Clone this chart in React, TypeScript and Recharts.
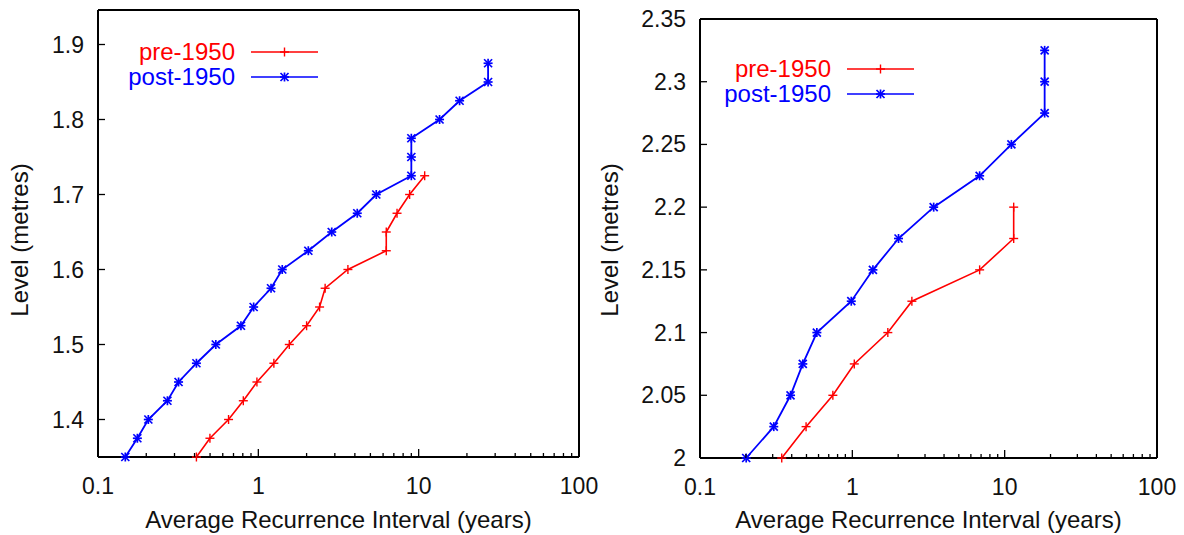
import React from "react"
import { LineChart, Line, XAxis, YAxis } from "recharts"

// left panel
const leftPreLevels = [1.35, 1.375, 1.4, 1.425, 1.45, 1.475, 1.5, 1.525, 1.55, 1.575, 1.6, 1.625, 1.65, 1.675, 1.7, 1.725]
const leftPreIntervals = [0.411, 0.499, 0.652, 0.806, 0.98, 1.25, 1.56, 2.0, 2.41, 2.61, 3.62, 6.28, 6.28, 7.33, 8.78, 10.9]
const leftPostLevels = [1.35, 1.375, 1.4, 1.425, 1.45, 1.475, 1.5, 1.525, 1.55, 1.575, 1.6, 1.625, 1.65, 1.675, 1.7, 1.725, 1.75, 1.775, 1.8, 1.825, 1.85, 1.875]
const leftPostIntervals = [0.148, 0.176, 0.206, 0.271, 0.318, 0.411, 0.543, 0.779, 0.935, 1.2, 1.41, 2.05, 2.87, 4.14, 5.44, 9.0, 9.0, 9.0, 13.5, 18.0, 27.1, 27.1]
const leftYTicks = [1.4, 1.5, 1.6, 1.7, 1.8, 1.9]

// right panel
const rightPreLevels = [2.0, 2.025, 2.05, 2.075, 2.1, 2.125, 2.15, 2.175, 2.2]
const rightPreIntervals = [0.344, 0.497, 0.745, 1.03, 1.71, 2.46, 6.85, 11.46, 11.46]
const rightPostLevels = [2.0, 2.025, 2.05, 2.075, 2.1, 2.125, 2.15, 2.175, 2.2, 2.225, 2.25, 2.275, 2.3, 2.325]
const rightPostIntervals = [0.201, 0.305, 0.393, 0.473, 0.585, 0.984, 1.365, 2.01, 3.42, 6.85, 11.07, 18.3, 18.3, 18.3]
const rightYTicks = [2, 2.05, 2.1, 2.15, 2.2, 2.25, 2.3, 2.35]

const xMajor = [0.1, 1, 10, 100]
const xTicks = [0.1, 0.2, 0.3, 0.4, 0.5, 0.6, 0.7, 0.8, 0.9, 1, 2, 3, 4, 5, 6, 7, 8, 9, 10, 20, 30, 40, 50, 60, 70, 80, 90, 100]

const seriesNames = ["pre-1950", "post-1950"]
const RED = "#ff0000"
const BLUE = "#0000ff"
const FONT = "'Liberation Sans', Arial, Helvetica, sans-serif"

const toRows = (xs: number[], ys: number[]) => xs.map((x, i) => ({ interval: x, level: ys[i] }))

function PlusDot({ cx, cy }: any) {
  if (cx == null || cy == null) return null
  return (
    <g stroke={RED} strokeWidth={1.4}>
      <line x1={cx - 4.5} y1={cy} x2={cx + 4.5} y2={cy} />
      <line x1={cx} y1={cy - 4.5} x2={cx} y2={cy + 4.5} />
    </g>
  )
}

function StarDot({ cx, cy }: any) {
  if (cx == null || cy == null) return null
  return (
    <g stroke={BLUE} strokeWidth={1.7}>
      <line x1={cx - 4.5} y1={cy} x2={cx + 4.5} y2={cy} />
      <line x1={cx} y1={cy - 4.5} x2={cx} y2={cy + 4.5} />
      <line x1={cx - 4} y1={cy - 4} x2={cx + 4} y2={cy + 4} />
      <line x1={cx - 4} y1={cy + 4} x2={cx + 4} y2={cy - 4} />
    </g>
  )
}

function XTick({ x, y, payload, side }: any) {
  const v = payload.value
  const major = xMajor.includes(v)
  const len = major ? 8 : 4
  const dir = side === "bottom" ? -1 : 1
  return (
    <g>
      <line x1={x} y1={y} x2={x} y2={y + dir * len} stroke="#000" strokeWidth={1.3} />
      {side === "bottom" && major && (
        <text x={x} y={y + 37} textAnchor="middle" fontSize={23} fontFamily={FONT} fill="#111">
          {String(v)}
        </text>
      )}
    </g>
  )
}

function YTick({ x, y, payload, side }: any) {
  const dir = side === "left" ? 1 : -1
  return (
    <g>
      <line x1={x} y1={y} x2={x + dir * 7} y2={y} stroke="#000" strokeWidth={1.3} />
      {side === "left" && (
        <text x={x - 14} y={y + 8} textAnchor="end" fontSize={23} fontFamily={FONT} fill="#111">
          {String(payload.value)}
        </text>
      )}
    </g>
  )
}

function LegendBox({ textRight, top }: { textRight: number; top: number }) {
  const rows = [
    { name: seriesNames[0], color: RED, Dot: PlusDot },
    { name: seriesNames[1], color: BLUE, Dot: StarDot },
  ]
  return (
    <g>
      {rows.map((r, i) => {
        const cy = top + i * 25
        const x1 = textRight + 16
        const x2 = textRight + 83
        return (
          <g key={r.name}>
            <text x={textRight} y={cy + 8} textAnchor="end" fontSize={24} fontFamily={FONT} fill={r.color}>
              {r.name}
            </text>
            <line x1={x1} y1={cy} x2={x2} y2={cy} stroke={r.color} strokeWidth={1.6} />
            <r.Dot cx={(x1 + x2) / 2} cy={cy} />
          </g>
        )
      })}
    </g>
  )
}

interface PanelProps {
  width: number
  left: number
  plotLeft: number
  plotRight: number
  plotTop: number
  plotBottom: number
  yDomain: [number, number]
  yTicks: number[]
  pre: { interval: number; level: number }[]
  post: { interval: number; level: number }[]
  legendRight: number
  legendTop: number
  yLabelX: number
}

function Panel(p: PanelProps) {
  const H = 535
  const cxLabel = (p.plotLeft + p.plotRight) / 2
  return (
    <div style={{ position: "absolute", left: p.left, top: 0 }}>
      <LineChart width={p.width} height={H} margin={{ top: 0, right: 0, bottom: 0, left: 0 }}>
        <XAxis
          xAxisId="b"
          dataKey="interval"
          type="number"
          scale="log"
          domain={[0.1, 100]}
          ticks={xTicks}
          interval={0}
          height={H - p.plotBottom}
          tickSize={0}
          tickMargin={0}
          tickLine={false}
          axisLine={{ stroke: "#000", strokeWidth: 2 }}
          tick={(t: any) => <XTick {...t} side="bottom" />}
        />
        <XAxis
          xAxisId="t"
          orientation="top"
          type="number"
          scale="log"
          domain={[0.1, 100]}
          ticks={xTicks}
          interval={0}
          height={p.plotTop}
          tickSize={0}
          tickMargin={0}
          tickLine={false}
          axisLine={{ stroke: "#000", strokeWidth: 2 }}
          tick={(t: any) => <XTick {...t} side="top" />}
        />
        <YAxis
          yAxisId="l"
          type="number"
          domain={p.yDomain}
          ticks={p.yTicks}
          interval={0}
          width={p.plotLeft}
          tickSize={0}
          tickMargin={0}
          tickLine={false}
          axisLine={{ stroke: "#000", strokeWidth: 2 }}
          tick={(t: any) => <YTick {...t} side="left" />}
        />
        <YAxis
          yAxisId="r"
          orientation="right"
          type="number"
          domain={p.yDomain}
          ticks={p.yTicks}
          interval={0}
          width={p.width - p.plotRight}
          tickSize={0}
          tickMargin={0}
          tickLine={false}
          axisLine={{ stroke: "#000", strokeWidth: 2 }}
          tick={(t: any) => <YTick {...t} side="right" />}
        />
        <Line
          xAxisId="b"
          yAxisId="l"
          data={p.pre}
          dataKey="level"
          name={seriesNames[0]}
          type="linear"
          stroke={RED}
          strokeWidth={1.6}
          dot={<PlusDot />}
          activeDot={false}
          isAnimationActive={false}
        />
        <Line
          xAxisId="b"
          yAxisId="l"
          data={p.post}
          dataKey="level"
          name={seriesNames[1]}
          type="linear"
          stroke={BLUE}
          strokeWidth={1.8}
          dot={<StarDot />}
          activeDot={false}
          isAnimationActive={false}
        />
        <LegendBox textRight={p.legendRight} top={p.legendTop} />
        <text x={cxLabel} y={528} textAnchor="middle" fontSize={24} fontFamily={FONT} fill="#111">
          Average Recurrence Interval (years)
        </text>
        <text
          x={p.yLabelX}
          y={240}
          transform={`rotate(-90, ${p.yLabelX}, 240)`}
          textAnchor="middle"
          fontSize={24}
          fontFamily={FONT}
          fill="#111"
        >
          Level (metres)
        </text>
      </LineChart>
    </div>
  )
}

export default function App() {
  return (
    <div style={{ position: "absolute", left: 0, top: 0, width: 1184, height: 535, background: "#fff" }}>
      <Panel
        width={600}
        left={0}
        plotLeft={98}
        plotRight={579}
        plotTop={10}
        plotBottom={457}
        yDomain={[1.35, 1.946]}
        yTicks={leftYTicks}
        pre={toRows(leftPreIntervals, leftPreLevels)}
        post={toRows(leftPostIntervals, leftPostLevels)}
        legendRight={235}
        legendTop={52}
        yLabelX={28}
      />
      <Panel
        width={594}
        left={590}
        plotLeft={110}
        plotRight={567}
        plotTop={19}
        plotBottom={458}
        yDomain={[2, 2.35]}
        yTicks={rightYTicks}
        pre={toRows(rightPreIntervals, rightPreLevels)}
        post={toRows(rightPostIntervals, rightPostLevels)}
        legendRight={241}
        legendTop={69}
        yLabelX={28}
      />
    </div>
  )
}
